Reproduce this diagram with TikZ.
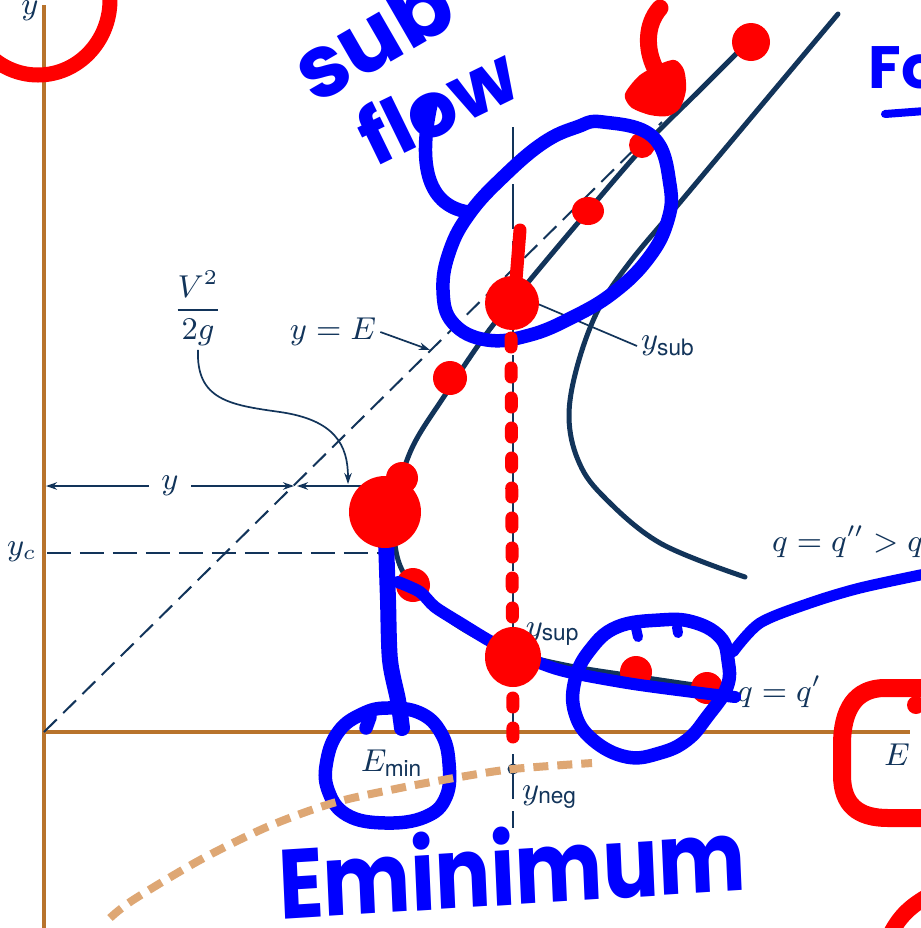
\documentclass[tikz,border=0pt]{standalone}
\usepackage{amsmath}
\usepackage{fontspec}
\setsansfont{TeX Gyre Heros}
\newfontfamily\handfont{Poppins}
\usepackage{tikz}
\usetikzlibrary{positioning,arrows.meta,calc}
\definecolor{ink}{HTML}{12345A}
\definecolor{axisbrown}{HTML}{B8732C}
\definecolor{tanline}{HTML}{DEA774}
\definecolor{bluepen}{HTML}{0000FF}
\definecolor{redpen}{HTML}{FF0000}
\tikzset{
  axisline/.style={axisbrown, line width=0.45mm},
  curve/.style={ink, line width=0.5mm, line cap=round},
  guide/.style={ink, line width=0.2mm, dash pattern=on 1.8mm off 0.9mm},
  arrowline/.style={ink, line width=0.17mm, -{Stealth[length=1.1mm, width=0.75mm]}},
  lbl/.style={text=ink, inner sep=1pt},
  penline/.style={bluepen, line width=1.35mm, line cap=round, line join=round},
  redline/.style={redpen, line width=1.5mm, line cap=round, line join=round},
  hand/.style={text=bluepen, inner sep=0pt},
}

\begin{document}
\begin{tikzpicture}[x=0.1mm, y=-0.1mm, font=\fontsize{9.2}{11}\selectfont]
\path[use as bounding box, fill=white] (0,0) rectangle (921,928);
% axes
\draw[axisline] (44,5) -- (44,928);
\draw[axisline] (44,732) -- (910,732);
% specific energy curves
\draw[curve] plot[smooth, tension=0.6] coordinates {(748,42) (700,90) (647,143) (588,211) (530,280) (487,333) (445,395) (412,448) (396,500) (394,535) (402,570) (428,603) (468,632) (513,652) (570,666) (640,677) (722,689)};
\draw[curve] plot[smooth, tension=0.6] coordinates {(838,14) (760,107) (682,200) (630,262) (598,310) (577,367) (569,417) (578,460) (602,495) (660,543) (745,577)};
% guide lines
\draw[guide] (44,732) -- (662,122);
\draw[guide, dash pattern=on 2.4mm off 0.9mm] (47,553) -- (380,553);
\draw[guide, dash pattern=on 4.5mm off 1.2mm] (513,127) -- (513,828);
% labels
\node[lbl] (yax) at (30,11) {$y$};
\node[lbl] (yc) at (22,552) {$y_c$};
\node[lbl] (Eax) at (897,755) {$E$};
\node[lbl] (Emin) at (392,763) {$E_{\textsf{min}}$};
\node[lbl] (yneg) at (550,797) {$y_{\textsf{neg}}$};
\node[lbl] (ysup) at (553,634) {$y_{\textsf{sup}}$};
\node[lbl, anchor=west] (ysub) at (637,346) {$y_{\textsf{sub}}$};
\node[lbl, anchor=base west] (qtwo) at (768,551) {$q = q'' > q'$};
\node[lbl, anchor=base west] (qone) at (733,701) {$q = q'$};
\node[lbl] (yE) at (333,332) {$y = E$};
\node[lbl] (vsq) at (198,308) {$\dfrac{V^2}{2g}$};
\fill[ink] (513,769) circle (5.5);
% dimension y and V^2/2g
\node[lbl, inner sep=1.2mm] (ydim) at (170,486) {$y$};
\coordinate (axisL) at (46,486);
\coordinate (diagX) at (294,486);
\coordinate (diagR) at (297,486);
\coordinate (noseX) at (393,486);
\draw[arrowline] (ydim) -- (axisL);
\draw[arrowline] (ydim) -- (diagX);
\draw[arrowline, {Stealth[length=1.1mm, width=0.75mm]}-{Stealth[length=1.1mm, width=0.75mm]}] (diagR) -- (noseX);
% leaders
\coordinate (yEhit) at (430,350);
\coordinate (vhit) at (348,484);
\coordinate (subpt) at (538,304);
\draw[arrowline] (yE.east) -- (yEhit);
\draw[arrowline] (vsq.south) .. controls (196,400) and (230,405) .. (280,412) .. controls (335,420) and (348,445) .. (vhit);
\draw[ink, line width=0.17mm] (subpt) -- (ysub.west);
% red marks under the pen
\fill[redpen] (642,145) circle (13);
\fill[redpen] (636,672) circle (16);
\fill[redpen] (707,688) circle (16);
\fill[redpen] (413,585) circle (17);
\fill[redpen] (751,42) circle (19);
\fill[redpen] (588,211) ellipse [x radius=16, y radius=14];
\fill[redpen] (450,378) circle (17);
\draw[redline, line width=1.7mm] (660,8) .. controls (645,25) and (646,50) .. (655,68);
\fill[redpen] plot[smooth cycle] coordinates {(627,90) (640,75) (660,64) (675,60) (684,70) (686,90) (680,108) (668,116) (650,115) (632,108) (625,98)};
\draw[redline] (38,0) ellipse [x radius=72, y radius=75];
\draw[redline, line width=1.8mm] (935,688) -- (885,688) .. controls (855,688) and (842,710) .. (842,745) -- (842,775) .. controls (842,805) and (858,818) .. (888,818) -- (935,818);
\fill[redpen] (916,705) circle (9);
\draw[redline, line width=1.6mm] (890,935) .. controls (900,915) and (912,905) .. (930,895);
% blue pen
\draw[penline] plot[smooth cycle, tension=0.7] coordinates {(603,122) (653,137) (670,185) (667,223) (647,260) (613,293) (573,317) (530,335) (487,340) (453,323) (443,290) (450,250) (470,213) (503,177) (543,143) (577,127)};
\draw[penline] (432,100) .. controls (418,160) and (425,205) .. (468,212);
\draw[penline, line width=1.6mm] plot[smooth] coordinates {(386,540) (388,600) (390,660) (398,700) (402,728)};
\draw[penline] plot[smooth cycle, tension=0.7] coordinates {(387,708) (420,713) (441,733) (449,763) (446,797) (425,817) (385,823) (347,815) (328,790) (327,760) (339,731) (362,714)};
\draw[penline] (370,717) -- (366,728);
\draw[penline, line width=1.2mm] plot[smooth] coordinates {(398,582) (420,592) (435,607) (462,624) (490,641) (513,652) (560,670) (627,683) (693,692) (735,697)};
\draw[penline] plot[smooth cycle, tension=0.7] coordinates {(660,620) (693,622) (720,637) (728,660) (727,687) (707,717) (687,740) (660,753) (627,757) (593,740) (575,713) (575,680) (590,650) (617,627)};
\draw[penline, line width=1mm] (636,628) -- (638,637);
\draw[penline, line width=1mm] (677,627) -- (678,633);
\draw[penline, line width=1.1mm] plot[smooth] coordinates {(733,652) (760,623) (810,603) (860,588) (925,574)};
\draw[penline, line width=0.8mm] (885,114) -- (925,111);
% handwriting
\node[hand, font=\handfont\bfseries\fontsize{25}{25}\selectfont, rotate=30] (subword) at (372,36) {sub};
\node[hand, font=\handfont\bfseries\fontsize{22}{22}\selectfont, rotate=26] (flowword) at (437,104) {flow};
\node[hand, font=\handfont\bfseries\fontsize{28}{28}\selectfont, xscale=0.84, rotate=3] (eminword) at (512,866) {Eminimum};
\node[hand, font=\handfont\bfseries\fontsize{17}{17}\selectfont, anchor=base west] (foword) at (868,88) {Fo};
% tan dashed curve
\draw[tanline, line width=0.8mm, dash pattern=on 1.5mm off 0.9mm] plot[smooth] coordinates {(110,918) (133,900) (200,860) (267,827) (333,803) (400,788) (460,777) (513,769) (592,763)};
% red marks over the pen
\fill[redpen] (385,512) circle (36);
\fill[redpen] (402,478) circle (16);
\fill[redpen] (513,657) ellipse [x radius=28, y radius=30];
\fill[redpen] (512,303) circle (27);
\draw[redline, line width=1.3mm] (520,230) -- (516,280);
\draw[redpen, line width=1.3mm, line cap=round, dash pattern=on 0.9mm off 2.1mm] (511,338) -- (513,742);
\end{tikzpicture}
\end{document}
